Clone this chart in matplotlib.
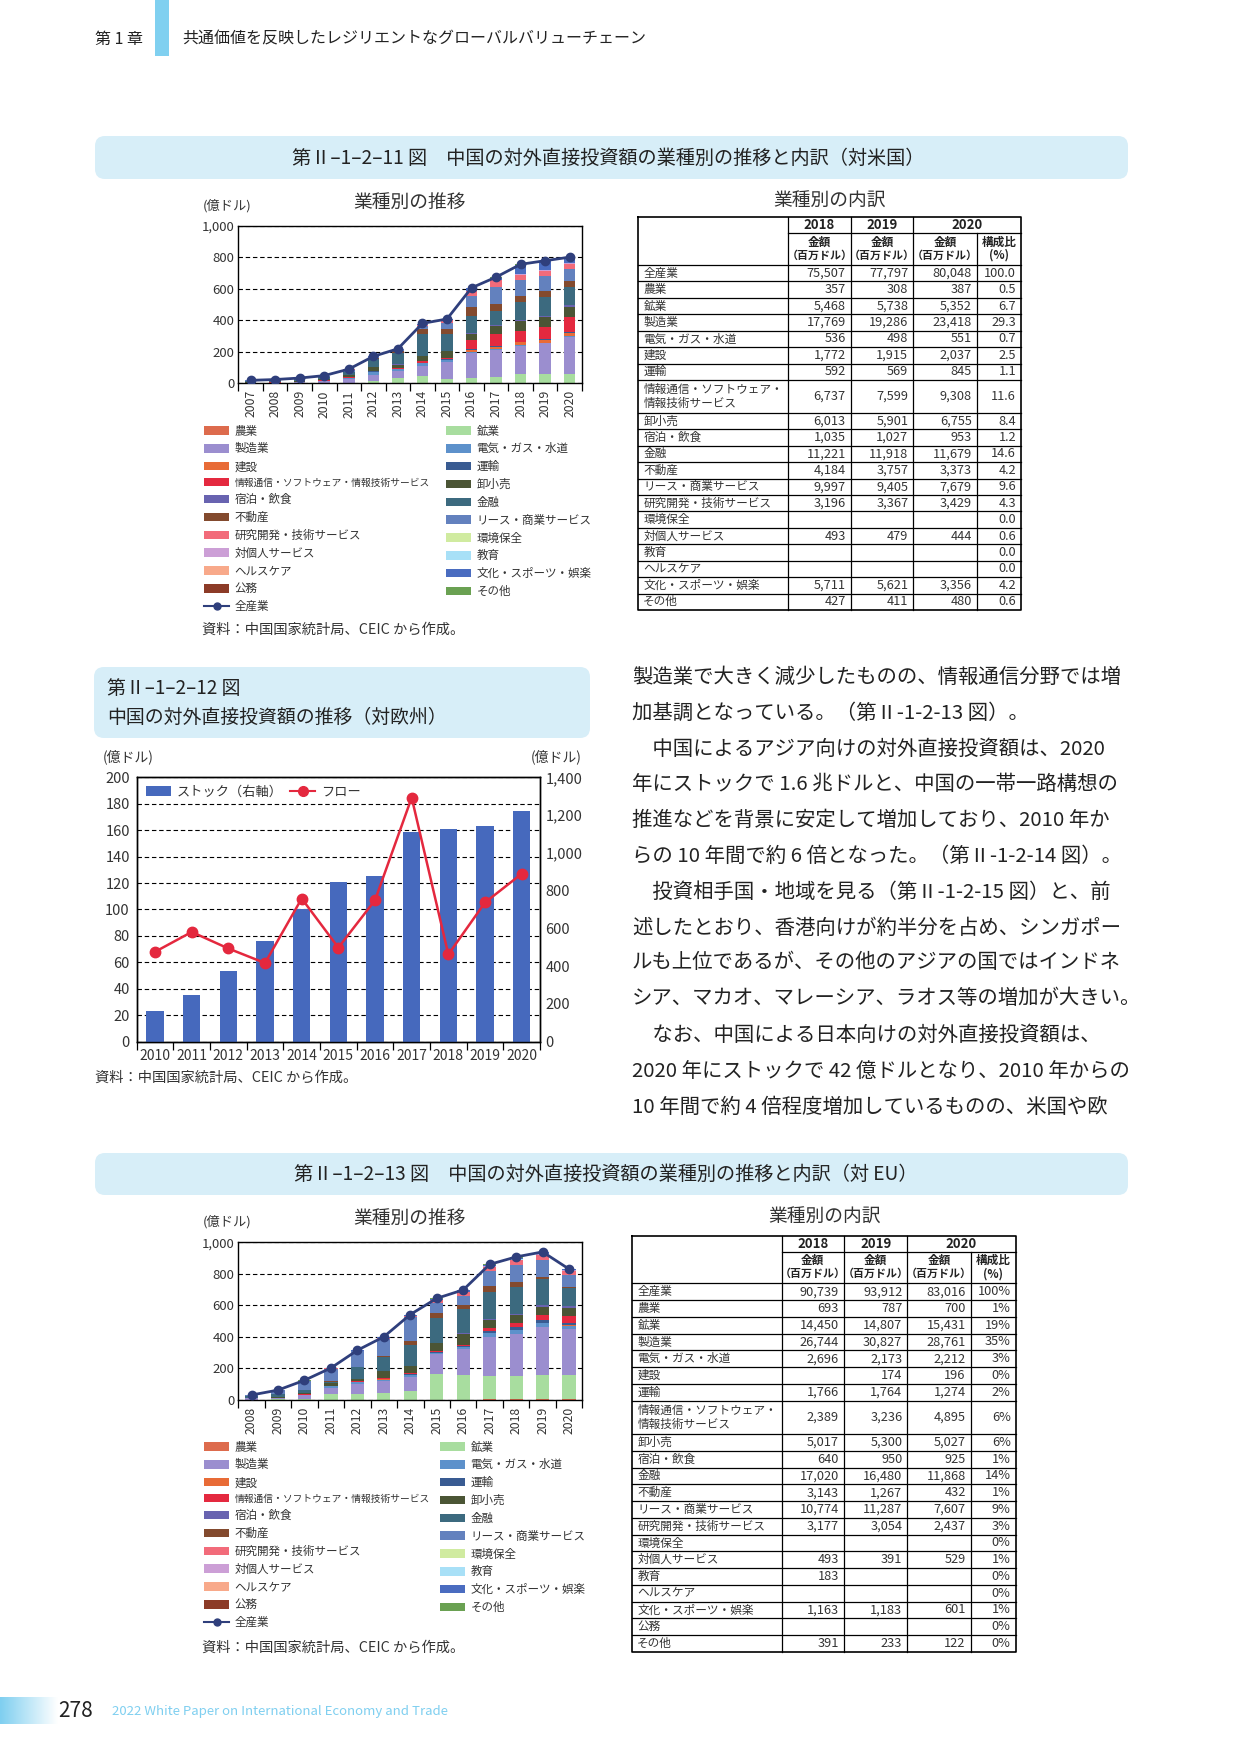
import numpy as np
import matplotlib
matplotlib.use('Agg')
import matplotlib.pyplot as plt
from matplotlib.patches import FancyBboxPatch, Rectangle, Patch
from matplotlib.lines import Line2D
from matplotlib.colors import LinearSegmentedColormap

plt.rcParams['font.family'] = ['Noto Sans CJK JP', 'DejaVu Sans']
plt.rcParams['axes.unicode_minus'] = False

W, H = 1241, 1754
TXT = '#333333'
DARK = '#222222'
BOX = '#d7eef8'

# ---------------- data ----------------
industries = ['農業', '鉱業', '製造業', '電気・ガス・水道', '建設', '運輸',
              '情報通信・ソフトウェア・情報技術サービス', '卸小売', '宿泊・飲食', '金融',
              '不動産', 'リース・商業サービス', '研究開発・技術サービス', '環境保全',
              '対個人サービス', '教育', 'ヘルスケア', '文化・スポーツ・娯楽', '公務', 'その他']
industry_colors = ['#dd6b4d', '#a8dd9f', '#9b8ecf', '#5d91cb', '#e86b36', '#395b92',
                   '#e4293f', '#4b5535', '#6863b0', '#3c6a7f', '#834a2e', '#6381be',
                   '#f26b7a', '#d0eba0', '#cc9fd6', '#a8e0f7', '#f8a98a', '#4a6cc0',
                   '#8c3b27', '#6aa152']

# --- US chart (億ドル), 2007-2017, 2018-2020 from table
us_years = ['2007', '2008', '2009', '2010', '2011', '2012', '2013', '2014',
            '2015', '2016', '2017', '2018', '2019', '2020']
us_total_early = [18.8, 23.9, 33.4, 48.7, 89.9, 170.8, 219.0, 380.1, 408.0, 605.8, 673.8]
us_2007 = [0.1, 0.5, 3.0, 0.2, 0.3, 0.2, 0.3, 3.5, 0.1, 6.0, 0.5, 3.5, 0.3, 0, 0, 0, 0, 0.1, 0, 0.2]
us_2008 = [0.1, 0.5, 3.5, 0.3, 0.3, 0.3, 0.5, 4.0, 0.1, 8.0, 0.8, 4.5, 0.5, 0, 0, 0, 0, 0.3, 0, 0.2]
us_2009 = [0.2, 0.5, 5.0, 0.5, 0.5, 0.3, 3.0, 6.0, 0.2, 9.0, 1.5, 5.5, 0.5, 0, 0, 0, 0, 0.5, 0, 0.2]
us_2010 = [0.2, 0.5, 14.0, 0.5, 0.5, 0.3, 2.0, 7.0, 0.2, 12.0, 2.0, 8.0, 0.8, 0, 0, 0, 0, 0.5, 0, 0.2]
us_2011 = [0.3, 1.0, 28.0, 6.0, 1.0, 0.5, 2.5, 12.0, 0.3, 18.0, 3.0, 14.0, 1.5, 0, 0, 0, 0, 1.5, 0, 0.3]
us_2012 = [0.3, 15.0, 38.0, 20.0, 1.5, 1.0, 3.0, 22.0, 0.5, 55.0, 3.0, 8.0, 1.5, 0, 0, 0, 0, 1.5, 0, 0.5]
us_2013 = [0.3, 34.0, 44.0, 12.0, 2.0, 1.5, 4.0, 21.0, 0.5, 74.0, 12.0, 10.0, 1.7, 0, 0, 0, 0, 1.5, 0, 0.5]
us_2014 = [1.0, 47.0, 63.0, 15.0, 3.0, 2.0, 12.0, 28.0, 1.0, 141.0, 32.0, 17.0, 8.0, 0, 1.0, 0, 0, 7.0, 0, 1.1]
us_2015 = [1.0, 27.0, 110.0, 8.0, 5.0, 3.0, 4.0, 46.0, 1.5, 106.0, 34.0, 38.0, 16.0, 0, 1.0, 0, 0, 6.0, 0, 1.5]
us_2016 = [2.0, 34.0, 157.0, 4.0, 15.0, 4.0, 57.0, 40.0, 3.0, 114.0, 55.0, 70.0, 30.0, 0, 2.0, 0, 0, 17.0, 0, 1.8]
us_2017 = [3.0, 40.0, 171.0, 5.0, 12.0, 5.0, 75.0, 51.0, 6.0, 93.0, 44.0, 108.0, 40.0, 0, 3.0, 0, 0, 15.0, 0, 2.8]

# --- US table (百万ドル)
us_tbl_labels = ['全産業', '農業', '鉱業', '製造業', '電気・ガス・水道', '建設', '運輸',
                 '情報通信・ソフトウェア・情報技術サービス', '卸小売', '宿泊・飲食', '金融',
                 '不動産', 'リース・商業サービス', '研究開発・技術サービス', '環境保全',
                 '対個人サービス', '教育', 'ヘルスケア', '文化・スポーツ・娯楽', 'その他']
us_tbl_2018 = [75507, 357, 5468, 17769, 536, 1772, 592, 6737, 6013, 1035, 11221, 4184, 9997, 3196,
               None, 493, None, None, 5711, 427]
us_tbl_2019 = [77797, 308, 5738, 19286, 498, 1915, 569, 7599, 5901, 1027, 11918, 3757, 9405, 3367,
               None, 479, None, None, 5621, 411]
us_tbl_2020 = [80048, 387, 5352, 23418, 551, 2037, 845, 9308, 6755, 953, 11679, 3373, 7679, 3429,
               None, 444, None, None, 3356, 480]
us_tbl_share = [100.0, 0.5, 6.7, 29.3, 0.7, 2.5, 1.1, 11.6, 8.4, 1.2, 14.6, 4.2, 9.6, 4.3,
                0.0, 0.6, 0.0, 0.0, 4.2, 0.6]

# --- EU chart (億ドル), 2008-2017, 2018-2020 from table
eu_years = ['2008', '2009', '2010', '2011', '2012', '2013', '2014', '2015', '2016',
            '2017', '2018', '2019', '2020']
eu_total_early = [31.7, 62.8, 125.0, 202.9, 315.4, 401.0, 542.1, 644.6, 698.3, 860.2]
eu_2008 = [0.3, 1.0, 9.0, 0.5, 0.0, 0.5, 0.5, 3.0, 0.2, 9.0, 0.5, 6.0, 0.5, 0, 0, 0, 0, 0.5, 0, 0.2]
eu_2009 = [0.5, 3.0, 8.0, 1.0, 0.0, 1.0, 1.0, 5.0, 0.3, 18.0, 1.0, 22.0, 0.5, 0, 0, 0, 0, 1.0, 0, 0.5]
eu_2010 = [1.0, 3.0, 28.0, 1.5, 0.0, 1.0, 1.5, 8.0, 0.5, 16.0, 2.0, 58.0, 1.0, 0, 0, 0, 0, 2.0, 0, 1.5]
eu_2011 = [1.0, 38.0, 40.0, 8.0, 0.5, 2.0, 1.5, 14.0, 0.5, 10.0, 5.0, 78.0, 1.5, 0, 0, 0, 0, 2.0, 0, 0.9]
eu_2012 = [1.0, 38.0, 63.0, 10.0, 1.0, 3.0, 2.0, 16.0, 1.0, 72.0, 3.0, 100.0, 2.0, 0, 0, 0, 0, 2.5, 0, 0.9]
eu_2013 = [1.5, 44.0, 76.0, 8.0, 1.0, 4.0, 3.0, 48.0, 1.0, 88.0, 5.0, 110.0, 5.0, 0, 0, 0, 0, 5.0, 0, 1.5]
eu_2014 = [2.0, 57.0, 90.0, 10.0, 1.0, 5.0, 8.0, 42.0, 2.0, 130.0, 27.0, 153.0, 5.0, 0, 1.0, 0, 0, 7.0, 0, 2.1]
eu_2015 = [3.0, 161.0, 126.0, 8.0, 1.0, 4.0, 6.0, 53.0, 2.0, 156.0, 34.0, 61.0, 16.0, 0, 2.0, 0, 0, 8.0, 0, 3.6]
eu_2016 = [3.0, 155.0, 164.0, 12.0, 1.0, 6.0, 5.0, 74.0, 3.0, 152.0, 27.0, 57.0, 25.0, 0, 2.0, 0, 0, 10.0, 0, 2.3]
eu_2017 = [4.0, 148.0, 246.0, 25.0, 1.0, 14.0, 17.0, 50.0, 6.0, 175.0, 34.0, 101.0, 25.0, 0, 5.0, 1.0, 0, 6.0, 0, 2.2]

# --- EU table (百万ドル)
eu_tbl_labels = ['全産業'] + industries
eu_tbl_2018 = [90739, 693, 14450, 26744, 2696, None, 1766, 2389, 5017, 640, 17020, 3143, 10774,
               3177, None, 493, 183, None, 1163, None, 391]
eu_tbl_2019 = [93912, 787, 14807, 30827, 2173, 174, 1764, 3236, 5300, 950, 16480, 1267, 11287,
               3054, None, 391, None, None, 1183, None, 233]
eu_tbl_2020 = [83016, 700, 15431, 28761, 2212, 196, 1274, 4895, 5027, 925, 11868, 432, 7607,
               2437, None, 529, None, None, 601, None, 122]
eu_tbl_share = [100, 1, 19, 35, 3, 0, 2, 6, 6, 1, 14, 1, 9, 3, 0, 1, 0, 0, 1, 0, 0]

# --- Europe stock / flow (億ドル)
eur_years = ['2010', '2011', '2012', '2013', '2014', '2015', '2016', '2017', '2018', '2019', '2020']
eur_stock = [160, 247, 375, 535, 700, 845, 878, 1110, 1127, 1144, 1224]
eur_flow = [68.0, 83.0, 70.5, 59.5, 108.3, 71.2, 107.0, 184.6, 66.0, 105.3, 127.0]

body_lines = [
    '製造業で大きく減少したものの、情報通信分野では増',
    '加基調となっている。（第Ⅱ-1-2-13 図）。',
    '　中国によるアジア向けの対外直接投資額は、2020',
    '年にストックで 1.6 兆ドルと、中国の一帯一路構想の',
    '推進などを背景に安定して増加しており、2010 年か',
    'らの 10 年間で約 6 倍となった。（第Ⅱ-1-2-14 図）。',
    '　投資相手国・地域を見る（第Ⅱ-1-2-15 図）と、前',
    '述したとおり、香港向けが約半分を占め、シンガポー',
    'ルも上位であるが、その他のアジアの国ではインドネ',
    'シア、マカオ、マレーシア、ラオス等の増加が大きい。',
    '　なお、中国による日本向けの対外直接投資額は、',
    '2020 年にストックで 42 億ドルとなり、2010 年からの',
    '10 年間で約 4 倍程度増加しているものの、米国や欧',
]


def table_to_cat(labels, col):
    out = []
    for name in industries:
        if name in labels:
            v = col[labels.index(name)]
            out.append(0.0 if v is None else v / 100.0)
        else:
            out.append(0.0)
    return out


us_matrix = np.array([us_2007, us_2008, us_2009, us_2010, us_2011, us_2012, us_2013, us_2014,
                      us_2015, us_2016, us_2017] +
                     [table_to_cat(us_tbl_labels, c) for c in (us_tbl_2018, us_tbl_2019, us_tbl_2020)])
us_totals = us_total_early + [c[0] / 100.0 for c in (us_tbl_2018, us_tbl_2019, us_tbl_2020)]
eu_matrix = np.array([eu_2008, eu_2009, eu_2010, eu_2011, eu_2012, eu_2013, eu_2014, eu_2015,
                      eu_2016, eu_2017] +
                     [table_to_cat(eu_tbl_labels, c) for c in (eu_tbl_2018, eu_tbl_2019, eu_tbl_2020)])
eu_totals = eu_total_early + [c[0] / 100.0 for c in (eu_tbl_2018, eu_tbl_2019, eu_tbl_2020)]

# ---------------- figure ----------------
fig = plt.figure(figsize=(W / 100, H / 100), dpi=100)
bg = fig.add_axes([0, 0, 1, 1])
bg.set_xlim(0, W)
bg.set_ylim(H, 0)
bg.axis('off')


def px_axes(x0, y0, x1, y1):
    return fig.add_axes([x0 / W, 1 - y1 / H, (x1 - x0) / W, (y1 - y0) / H])


def title_box(x0, y0, x1, y1, r=10):
    bg.add_patch(FancyBboxPatch((x0 + r, y0 + r), x1 - x0 - 2 * r, y1 - y0 - 2 * r,
                                boxstyle=f'round,pad={r}', fc=BOX, ec='none', zorder=0))


# header
bg.add_patch(Rectangle((155, 0), 14, 56, fc='#80d0f0', ec='none'))
bg.text(95, 39, '第 1 章', fontsize=11.5, color=DARK, va='center', ha='left')
bg.text(182, 39, '共通価値を反映したレジリエントなグローバルバリューチェーン', fontsize=11.5,
        color=DARK, va='center', ha='left')

# footer
grad = np.linspace(0, 1, 64).reshape(1, -1)
cm = LinearSegmentedColormap.from_list('g', ['#7fcff0', '#ffffff'])
bg.imshow(grad, extent=(0, 58, 1724, 1697), aspect='auto', cmap=cm, zorder=0)
bg.set_xlim(0, W)
bg.set_ylim(H, 0)
bg.text(58, 1711, '278', fontsize=15, color=DARK, va='center', ha='left')
bg.text(112, 1711, '2022 White Paper on International Economy and Trade', fontsize=9.5,
        color='#7fcff0', va='center', ha='left')

# title boxes
title_box(95, 136, 1128, 179)
bg.text(608, 158, '第Ⅱ–1–2–11 図　中国の対外直接投資額の業種別の推移と内訳（対米国）',
        fontsize=13.8, color=DARK, ha='center', va='center')
title_box(95, 1153, 1128, 1195)
bg.text(606, 1174, '第Ⅱ–1–2–13 図　中国の対外直接投資額の業種別の推移と内訳（対 EU）',
        fontsize=13.8, color=DARK, ha='center', va='center')
title_box(94, 667, 590, 738)
bg.text(107, 689, '第Ⅱ–1–2–12 図', fontsize=13.6, color=DARK, ha='left', va='center')
bg.text(107, 717, '中国の対外直接投資額の推移（対欧州）', fontsize=13.6, color=DARK, ha='left', va='center')

# body text
body_y = [677, 713, 749, 784, 820, 856, 892, 928, 963, 999, 1035, 1071, 1107]
for yy, line in zip(body_y, body_lines):
    bg.text(632, yy, line, fontsize=14.7, color=DARK, ha='left', va='center')

LINE_C = '#2f3f7c'
SRC = '資料：中国国家統計局、CEIC から作成。'


def stacked_chart(rect, years, matrix, totals, barw, title_y, leg_y, leg_xl, leg_xr, src_y):
    ax = px_axes(*rect)
    x = np.arange(len(years))
    bottom = np.zeros(len(years))
    for j in range(len(industries)):
        vals = matrix[:, j]
        ax.bar(x, vals, barw, bottom=bottom, color=industry_colors[j], linewidth=0, zorder=2)
        bottom = bottom + vals
    ax.plot(x, totals, color=LINE_C, lw=2, marker='o', ms=6, zorder=4)
    ax.set_xlim(-0.5, len(years) - 0.5)
    ax.set_ylim(0, 1000)
    ax.set_yticks(range(0, 1001, 200))
    ax.set_yticklabels([f'{v:,}' for v in range(0, 1001, 200)])
    ax.set_xticks(x)
    ax.set_xticklabels(years, rotation=90)
    ax.set_xticks(np.arange(-0.5, len(years)), minor=True)
    ax.tick_params(axis='x', which='major', length=0, pad=5, labelsize=8.8, labelcolor=TXT)
    ax.tick_params(axis='x', which='minor', length=6, width=0.9, direction='out')
    ax.tick_params(axis='y', length=0, pad=3, labelsize=9.5, labelcolor=TXT)
    ax.grid(axis='y', ls=(0, (4, 2.5)), color='black', lw=0.8)
    ax.set_axisbelow(True)
    for s in ax.spines.values():
        s.set_linewidth(1.0)
    bg.text(410, title_y, '業種別の推移', fontsize=13.5, color=TXT, ha='center', va='center')
    bg.text(203, title_y + 4, '(億ドル)', fontsize=9.5, color=TXT, ha='left', va='center')
    # legend: two columns
    left_idx = [0, 2, 4, 6, 8, 10, 12, 14, 16, 18]
    right_idx = [1, 3, 5, 7, 9, 11, 13, 15, 17, 19]
    hl = [Patch(fc=industry_colors[i], ec='none') for i in left_idx] + \
         [Line2D([], [], color=LINE_C, lw=1.5, marker='o', ms=5)]
    ll = [industries[i] for i in left_idx] + ['全産業']
    hr = [Patch(fc=industry_colors[i], ec='none') for i in right_idx]
    lr = [industries[i] for i in right_idx]
    kw = dict(loc='upper left', bbox_transform=bg.transData, frameon=False, fontsize=8.3,
              handlelength=2.2, handleheight=0.75, handletextpad=0.45, labelspacing=0.42,
              borderpad=0, borderaxespad=0, labelcolor=TXT)
    leg1 = ax.legend(hl, ll, bbox_to_anchor=(leg_xl, leg_y), **kw)
    leg1.get_texts()[3].set_fontsize(7.0)
    ax.add_artist(leg1)
    ax.legend(hr, lr, bbox_to_anchor=(leg_xr, leg_y), **kw)
    bg.text(202, src_y, SRC, fontsize=10.3, color=TXT, ha='left', va='center')
    return ax


stacked_chart((238.3, 225.7, 582, 383.3), us_years, us_matrix, us_totals, 0.47,
              202, 424.5, 204, 446, 630)
stacked_chart((238.3, 1242.3, 582.3, 1400), eu_years, eu_matrix, eu_totals, 0.5,
              1218, 1440.5, 204, 440, 1648)


# ---------------- tables ----------------
def fmt_num(v):
    return '' if v is None else f'{v:,}'


def draw_table(xe, y_top, h1, h2, unit, labels, c18, c19, c20, share, share_fmt, title_xy):
    xL, x1, x2, x3, x4, xR = xe
    bg.text(title_xy[0], title_xy[1], '業種別の内訳', fontsize=13.5, color=TXT, ha='center', va='center')
    yh1 = y_top + h1
    yh2 = yh1 + h2
    disp = [l.replace('ソフトウェア・', 'ソフトウェア・\n') for l in labels]
    heights = [2 * unit if '\n' in d else unit for d in disp]
    y_bot = yh2 + sum(heights)
    lw_i, lw_o = 0.9, 1.2
    bg.plot([xL, xR, xR, xL, xL], [y_top, y_top, y_bot, y_bot, y_top], color='black', lw=lw_o)
    for xv in (x1, x2, x3):
        bg.plot([xv, xv], [y_top, y_bot], color='black', lw=lw_i)
    bg.plot([x4, x4], [yh1, y_bot], color='black', lw=lw_i)
    bg.plot([x1, xR], [yh1, yh1], color='black', lw=lw_i)
    bg.plot([xL, xR], [yh2, yh2], color='black', lw=lw_i)
    hy = y_top + h1 / 2
    for xa, xb, t in ((x1, x2, '2018'), (x2, x3, '2019'), (x3, xR, '2020')):
        bg.text((xa + xb) / 2, hy, t, fontsize=9.5, fontweight='bold', color=DARK, ha='center', va='center')
    for xa, xb in ((x1, x2), (x2, x3), (x3, x4)):
        bg.text((xa + xb) / 2, yh1 + 9, '金額', fontsize=8.4, fontweight='bold', color=DARK,
                ha='center', va='center')
        bg.text((xa + xb) / 2, yh1 + 22, '（百万ドル）', fontsize=7.9, fontweight='bold', color=DARK,
                ha='center', va='center')
    bg.text((x4 + xR) / 2, yh1 + 9, '構成比', fontsize=8.4, fontweight='bold', color=DARK,
            ha='center', va='center')
    bg.text((x4 + xR) / 2, yh1 + 22, '(%)', fontsize=8.4, fontweight='bold', color=DARK,
            ha='center', va='center')
    y = yh2
    n = len(labels)
    for i in range(n):
        h = heights[i]
        yc = y + h / 2
        bg.text(xL + 5, yc, disp[i], fontsize=8.4, color=TXT, ha='left', va='center', linespacing=1.05)
        for xr, col in ((x2, c18), (x3, c19), (x4, c20)):
            bg.text(xr - 5, yc, fmt_num(col[i]), fontsize=9.2, color=TXT, ha='right', va='center')
        bg.text(xR - 5, yc, share_fmt(share[i]), fontsize=9.2, color=TXT, ha='right', va='center')
        y += h
        if i < n - 1:
            bg.plot([xL, xR], [y, y], color='black', lw=lw_i)


draw_table((638.3, 788.3, 850.7, 913.3, 976.7, 1021), 217.3, 16, 31.7, 16.43,
           us_tbl_labels, us_tbl_2018, us_tbl_2019, us_tbl_2020, us_tbl_share,
           lambda v: f'{v:.1f}', (830, 201))
draw_table((632.3, 781.7, 844, 907.3, 970.7, 1015.7), 1236, 15.7, 31.6, 16.75,
           eu_tbl_labels, eu_tbl_2018, eu_tbl_2019, eu_tbl_2020, eu_tbl_share,
           lambda v: f'{v}%', (825, 1217))

# ---------------- Europe chart ----------------
axl = px_axes(136.7, 777.3, 540, 1041.7)
xe = np.arange(len(eur_years))
axl.set_xlim(-0.5, len(eur_years) - 0.5)
axl.set_ylim(0, 200)
axl.set_yticks(range(0, 201, 20))
axl.grid(axis='y', ls=(0, (4, 2.5)), color='black', lw=0.8)
axl.tick_params(axis='y', length=0, pad=5, labelsize=10.5, labelcolor=TXT)
axl.set_xticks(xe)
axl.set_xticklabels(eur_years)
axl.set_xticks(np.arange(-0.5, len(eur_years)), minor=True)
axl.tick_params(axis='x', which='major', length=0, pad=5, labelsize=10, labelcolor=TXT)
axl.tick_params(axis='x', which='minor', length=6, width=0.9, direction='out')
for s in axl.spines.values():
    s.set_linewidth(1.0)

axr = axl.twinx()
axr.set_ylim(0, 1400)
axr.bar(xe, eur_stock, 0.48, color='#4669bd', linewidth=0)
axr.set_yticks(range(0, 1401, 200))
axr.set_yticklabels([f'{v:,}' for v in range(0, 1401, 200)])
axr.tick_params(axis='y', length=0, pad=4, labelsize=10.5, labelcolor=TXT)
for s in axr.spines.values():
    s.set_linewidth(1.0)

axf = axl.twinx()
axf.set_ylim(0, 200)
axf.plot(xe, eur_flow, color='#e4283e', lw=1.8, marker='o', ms=7.5)
axf.yaxis.set_visible(False)
for s in axf.spines.values():
    s.set_visible(False)
axf.legend([Patch(fc='#4669bd', ec='none'), Line2D([], [], color='#e4283e', lw=1.5, marker='o', ms=7)],
           ['ストック（右軸）', 'フロー'], loc='upper left', bbox_to_anchor=(146, 785.5),
           bbox_transform=bg.transData, ncol=2, frameon=False, fontsize=9.5, handlelength=1.9,
           handleheight=0.7, handletextpad=0.4, columnspacing=0.6, borderpad=0, borderaxespad=0,
           labelcolor=TXT)

bg.text(103, 757, '(億ドル)', fontsize=10, color=TXT, ha='left', va='center')
bg.text(582, 757, '(億ドル)', fontsize=10, color=TXT, ha='right', va='center')
bg.text(95, 1078, SRC, fontsize=10.3, color=TXT, ha='left', va='center')

fig.savefig('out.png', dpi=100, facecolor='white')
